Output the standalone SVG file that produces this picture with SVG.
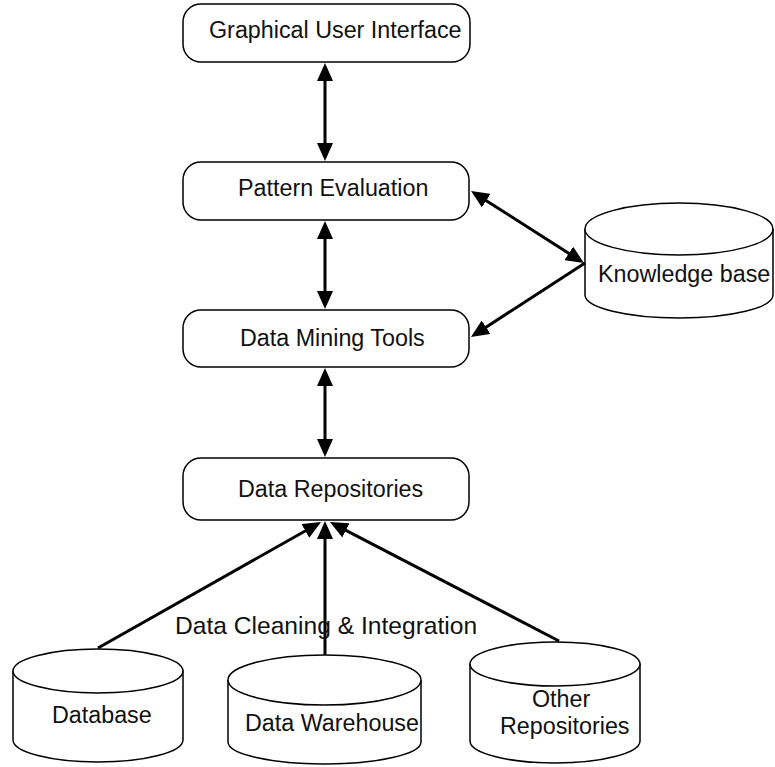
<svg xmlns="http://www.w3.org/2000/svg" width="775" height="767" viewBox="0 0 775 767">
<style>
.box{fill:#fff;stroke:#000;stroke-width:1.5}
.cyl{fill:#fff;stroke:#000;stroke-width:1.5}
.lbl{font-family:"Liberation Sans",Arial,sans-serif;font-size:23.3px;fill:#111}
.con{stroke:#000;stroke-width:3;fill:none}
.arr{marker-end:url(#ah)}
.bi{marker-start:url(#ah);marker-end:url(#ah)}
</style>
<defs>
<marker id="ah" markerUnits="userSpaceOnUse" markerWidth="18" markerHeight="16" refX="12" refY="8" orient="auto-start-reverse" viewBox="0 0 18 16">
<path d="M0,0 L18,8 L0,16 Z" fill="#000"/>
</marker>
</defs>
<rect width="775" height="767" fill="#fff"/>
<g id="gui">
<rect class="box" x="183" y="4" width="287" height="58" rx="18" ry="18"/>
<text class="lbl" x="209" y="38">Graphical User Interface</text>
</g>
<g id="pattern-evaluation">
<rect class="box" x="183" y="162" width="286" height="58" rx="18" ry="18"/>
<text class="lbl" x="238" y="196">Pattern Evaluation</text>
</g>
<g id="data-mining-tools">
<rect class="box" x="183" y="310" width="286" height="57" rx="18" ry="18"/>
<text class="lbl" x="240" y="346">Data Mining Tools</text>
</g>
<g id="data-repositories">
<rect class="box" x="183" y="458" width="286" height="62" rx="18" ry="18"/>
<text class="lbl" x="238" y="497">Data Repositories</text>
</g>
<g id="knowledge-base">
<path class="cyl" d="M585,229 L585,295 A94,23 0 0 0 773,295 L773,229"/>
<ellipse class="cyl" cx="679" cy="229" rx="94" ry="26"/>
<text class="lbl" x="598" y="282">Knowledge base</text>
</g>
<g id="database">
<path class="cyl" d="M13,671 L13,740 A85,22 0 0 0 183,740 L183,671"/>
<ellipse class="cyl" cx="98" cy="671" rx="85" ry="22"/>
<text class="lbl" x="52" y="723">Database</text>
</g>
<g id="data-warehouse">
<path class="cyl" d="M228,680 L228,742 A96.5,22 0 0 0 421,742 L421,680"/>
<ellipse class="cyl" cx="324.5" cy="680" rx="96.5" ry="25"/>
<text class="lbl" x="245" y="731">Data Warehouse</text>
</g>
<g id="other-repositories">
<path class="cyl" d="M470,664 L470,741 A85,22 0 0 0 640,741 L640,664"/>
<ellipse class="cyl" cx="555" cy="664" rx="85" ry="22"/>
<text class="lbl" x="532" y="707">Other</text>
<text class="lbl" x="500" y="734">Repositories</text>
</g>
<g id="connectors">
<line class="con bi" x1="325" y1="69" x2="325" y2="155"/>
<line class="con bi" x1="325" y1="227" x2="325" y2="303"/>
<line class="con bi" x1="325" y1="374" x2="325" y2="451"/>
<line class="con bi" x1="476.1" y1="194.2" x2="578.9" y2="259.8"/>
<line class="con arr" x1="585" y1="263" x2="476" y2="333.7"/>
<line class="con arr" x1="98" y1="648" x2="315.8" y2="525"/>
<line class="con arr" x1="325" y1="655" x2="325" y2="527"/>
<line class="con arr" x1="559" y1="641" x2="335.3" y2="524.8"/>
</g>
<text class="lbl" x="175" y="634" style="font-size:24.6px">Data Cleaning &amp; Integration</text>
</svg>
